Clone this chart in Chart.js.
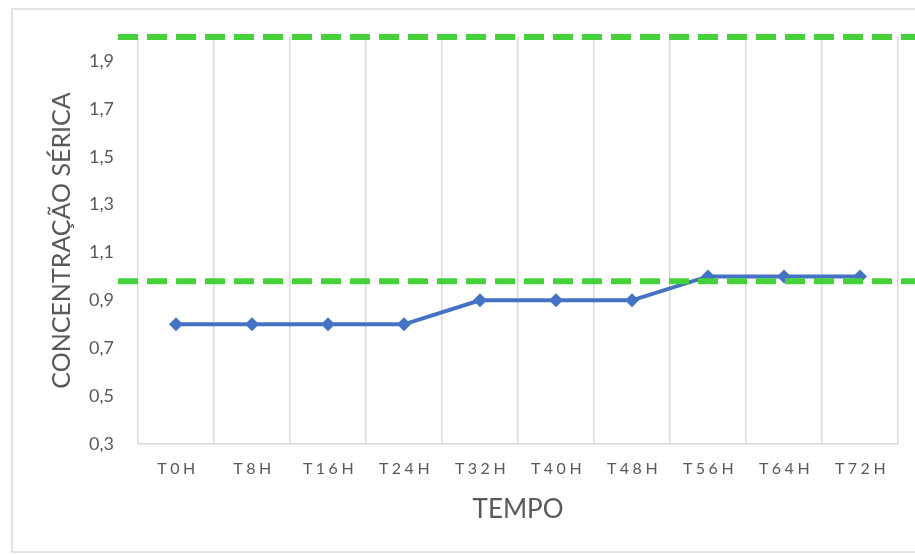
<!DOCTYPE html>
<html>
<head>
<meta charset="utf-8">
<script src="https://cdn.jsdelivr.net/npm/chart.js@4/dist/chart.umd.min.js"></script>
<style>
  html, body { margin: 0; padding: 0; background: #fff; }
  #wrap { position: relative; width: 915px; height: 554px; }
</style>
</head>
<body>
<div id="wrap"><canvas id="c" width="915" height="554"></canvas></div>
<script>
const categories = ['T0H', 'T8H', 'T16H', 'T24H', 'T32H', 'T40H', 'T48H', 'T56H', 'T64H', 'T72H'];
const concentration = [0.8, 0.8, 0.8, 0.8, 0.9, 0.9, 0.9, 1.0, 1.0, 1.0];
const yTickValues = [0.3, 0.5, 0.7, 0.9, 1.1, 1.3, 1.5, 1.7, 1.9];
const limitLines = [2.0, 0.98];
const yMin = 0.3, yMax = 2.0;

const FONT = 'Lato, "Open Sans", sans-serif';
const GREY = '#595959';

const framePlugin = {
  id: 'frame',
  beforeDraw(chart) {
    const ctx = chart.ctx;
    ctx.save();
    ctx.fillStyle = '#fff';
    ctx.fillRect(0, 0, chart.width, chart.height);
    ctx.strokeStyle = '#d9d9d9';
    ctx.lineWidth = 1.5;
    ctx.strokeRect(12, 9, chart.width + 20, 543);
    ctx.restore();
    const sx = chart.scales.x;
    if (sx && !sx._spaced) {
      const orig = sx.drawLabels.bind(sx);
      sx.drawLabels = function (area) {
        const c = this.ctx;
        c.save();
        c.letterSpacing = '3.5px';
        c.translate(2, 0);
        orig(area);
        c.restore();
      };
      sx._spaced = true;
    }
  },
  afterDatasetsDraw(chart) {
    const ctx = chart.ctx;
    const y = chart.scales.y;
    ctx.save();
    ctx.strokeStyle = '#45d13a';
    ctx.lineWidth = 6;
    ctx.setLineDash([20, 9]);
    limitLines.forEach(v => {
      const py = y.getPixelForValue(v);
      ctx.beginPath();
      ctx.moveTo(118, py);
      ctx.lineTo(chart.width, py);
      ctx.stroke();
    });
    ctx.restore();
  }
};

new Chart(document.getElementById('c'), {
  type: 'line',
  data: {
    labels: categories,
    datasets: [{
      label: 'Concentração sérica',
      data: concentration,
      borderColor: '#4472c4',
      backgroundColor: '#4472c4',
      borderWidth: 4,
      pointStyle: 'rectRot',
      pointRadius: 7,
      pointHoverRadius: 7,
      pointBorderWidth: 0,
      tension: 0
    }]
  },
  options: {
    responsive: false,
    animation: false,
    events: [],
    layout: { padding: { top: 37, right: 17, left: 0, bottom: 0 } },
    plugins: {
      legend: { display: false },
      tooltip: { enabled: false }
    },
    scales: {
      x: {
        offset: true,
        grid: { display: true, offset: true, color: '#d9d9d9', lineWidth: 1.5, drawTicks: false },
        border: { display: true, color: '#d9d9d9', width: 1.5 },
        ticks: { color: GREY, font: { family: FONT, size: 16 }, padding: 15, maxRotation: 0, autoSkip: false },
        title: { display: true, text: 'TEMPO', color: GREY, font: { family: FONT, size: 26 }, padding: { top: 0, bottom: 29 } },
        afterFit(scale) { scale.height = 110; }
      },
      y: {
        min: yMin,
        max: yMax,
        grid: { display: false, drawTicks: false },
        border: { display: false },
        afterBuildTicks(scale) { scale.ticks = yTickValues.map(v => ({ value: v })); },
        ticks: {
          color: GREY,
          font: { family: FONT, size: 18 },
          padding: 24,
          callback: v => Number(v).toFixed(1).replace('.', ',')
        },
        title: { display: true, text: 'CONCENTRAÇÃO SÉRICA', color: GREY, font: { family: FONT, size: 25 }, padding: { top: 47, bottom: 0 } },
        afterFit(scale) { scale.width = 138; }
      }
    }
  },
  plugins: [framePlugin]
});
</script>
</body>
</html>
